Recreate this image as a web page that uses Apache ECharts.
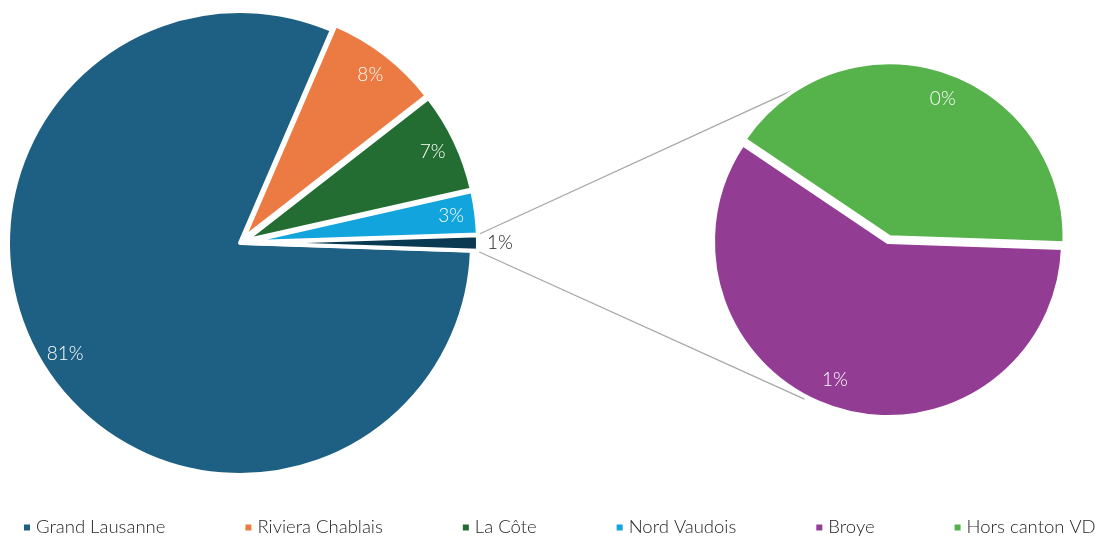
<!DOCTYPE html>
<html>
<head>
<meta charset="utf-8">
<script src="https://cdn.jsdelivr.net/npm/echarts@6/dist/echarts.min.js"></script>
<style>
  html, body { margin: 0; padding: 0; background: #fff; }
  #main { width: 1106px; height: 539px; }
</style>
</head>
<body>
<div id="main"></div>
<script>
// données
var mainNames = ['Grand Lausanne', 'Riviera Chablais', 'La Côte', 'Nord Vaudois'];
var mainValues = [81.0, 8.0, 7.0, 3.0];
var mainColors = ['#1d6083', '#ec7b43', '#236d33', '#12a4dc'];
var subNames = ['Broye', 'Hors canton VD'];
var subValues = [0.63, 0.44];
var subColors = ['#933c94', '#56b24b'];
var otherColor = '#0a3a52';

var font = 'Lato';
var fw = 300;
var total = mainValues.concat(subValues).reduce(function (a, b) { return a + b; }, 0);
var otherValue = subValues.reduce(function (a, b) { return a + b; }, 0);

function pct (v) { return Math.round(v / total * 100) + '%'; }

// mise en page
var mainC = [240, 243], mainR = 232, explode = 6;
var subC = [888, 242], subR = 175;
var mainStart = -(otherValue / total * 360) / 2;
var subStart = -2;

var mainData = mainNames.map(function (n, i) {
   return { name: n, value: mainValues[i], selected: i > 0, itemStyle: { color: mainColors[i] } };
});
mainData.push({ name: 'Autres', value: otherValue, selected: true, itemStyle: { color: otherColor } });

var subData = subNames.map(function (n, i) {
   return { name: n, value: subValues[i], selected: i === 1, itemStyle: { color: subColors[i] } };
});

function labelData (data) {
   return data.map(function (d) {
      return { name: d.name, value: d.value, selected: d.selected, itemStyle: { color: 'rgba(0,0,0,0)' } };
   });
}

var mainLabels = labelData(mainData);
mainLabels[mainLabels.length - 1].label = { show: false };

// lignes de liaison
var half = (otherValue / total * 360) / 2 * Math.PI / 180;
var cAng = 118 * Math.PI / 180;
var p1 = [mainC[0] + explode + (mainR + 1) * Math.cos(half), mainC[1] - (mainR + 1) * Math.sin(half) - 1];
var p2 = [mainC[0] + explode + (mainR + 1) * Math.cos(half), mainC[1] + (mainR + 1) * Math.sin(half) + 1];
var q1 = [subC[0] + (subR + 3) * Math.cos(cAng), subC[1] - (subR + 3) * Math.sin(cAng)];
var q2 = [subC[0] + (subR + 3) * Math.cos(cAng), subC[1] + (subR + 3) * Math.sin(cAng)];

var myChart = echarts.init(document.getElementById('main'));
var option = {
   animation: false,
   textStyle: { fontFamily: font },
   legend: {
      type: 'plain',
      data: mainNames.concat(subNames),
      left: 22,
      top: 518,
      width: 1084,
      padding: 0,
      icon: 'rect',
      itemWidth: 8,
      itemHeight: 8,
      itemGap: 78,
      textStyle: { fontFamily: font, fontWeight: fw, fontSize: 18.5, color: '#262626' }
   },
   graphic: [
      { type: 'line', shape: { x1: p1[0], y1: p1[1], x2: q1[0], y2: q1[1] }, style: { stroke: '#a6a6a6', lineWidth: 1.2 }, silent: true },
      { type: 'line', shape: { x1: p2[0], y1: p2[1], x2: q2[0], y2: q2[1] }, style: { stroke: '#a6a6a6', lineWidth: 1.2 }, silent: true }
   ],
   series: [
      {
         type: 'pie',
         center: mainC,
         radius: mainR,
         startAngle: mainStart,
         clockwise: true,
         selectedMode: 'multiple',
         selectedOffset: explode,
         avoidLabelOverlap: false,
         itemStyle: { borderColor: '#fff', borderWidth: 4 },
         emphasis: { disabled: true },
         label: { show: false },
         labelLine: { show: false },
         data: mainData.map(function (d, i) {
            if (i === mainData.length - 1) {
               d.label = { show: true, position: 'outside', formatter: function (p) { return pct(p.value); }, color: '#222', fontSize: 19, fontWeight: fw, fontFamily: font };
               d.labelLine = { show: false, length: 4, length2: 0 };
            }
            return d;
         })
      },
      {
         type: 'pie',
         center: mainC,
         radius: [176, mainR],
         startAngle: mainStart,
         clockwise: true,
         selectedMode: 'multiple',
         selectedOffset: explode,
         silent: true,
         avoidLabelOverlap: false,
         emphasis: { disabled: true },
         label: {
            show: true,
            position: 'inside',
            color: '#fff',
            fontSize: 19,
            fontWeight: fw,
            fontFamily: font,
            formatter: function (p) { return pct(p.value); }
         },
         labelLine: { show: false },
         data: mainLabels
      },
      {
         type: 'pie',
         center: subC,
         radius: subR,
         startAngle: subStart,
         clockwise: true,
         selectedMode: 'multiple',
         selectedOffset: 5,
         avoidLabelOverlap: false,
         itemStyle: { borderColor: '#fff', borderWidth: 4 },
         emphasis: { disabled: true },
         label: { show: false },
         labelLine: { show: false },
         data: subData
      },
      {
         type: 'pie',
         center: subC,
         radius: [115, subR],
         startAngle: subStart - 3,
         clockwise: true,
         selectedMode: 'multiple',
         selectedOffset: 5,
         silent: true,
         avoidLabelOverlap: false,
         emphasis: { disabled: true },
         label: {
            show: true,
            position: 'inside',
            color: '#fff',
            fontSize: 19,
            fontWeight: fw,
            fontFamily: font,
            formatter: function (p) { return pct(p.value); }
         },
         labelLine: { show: false },
         data: labelData(subData)
      }
   ]
};
myChart.setOption(option);
window.addEventListener('resize', function () {
   myChart.resize();
});
</script>
</body>
</html>
